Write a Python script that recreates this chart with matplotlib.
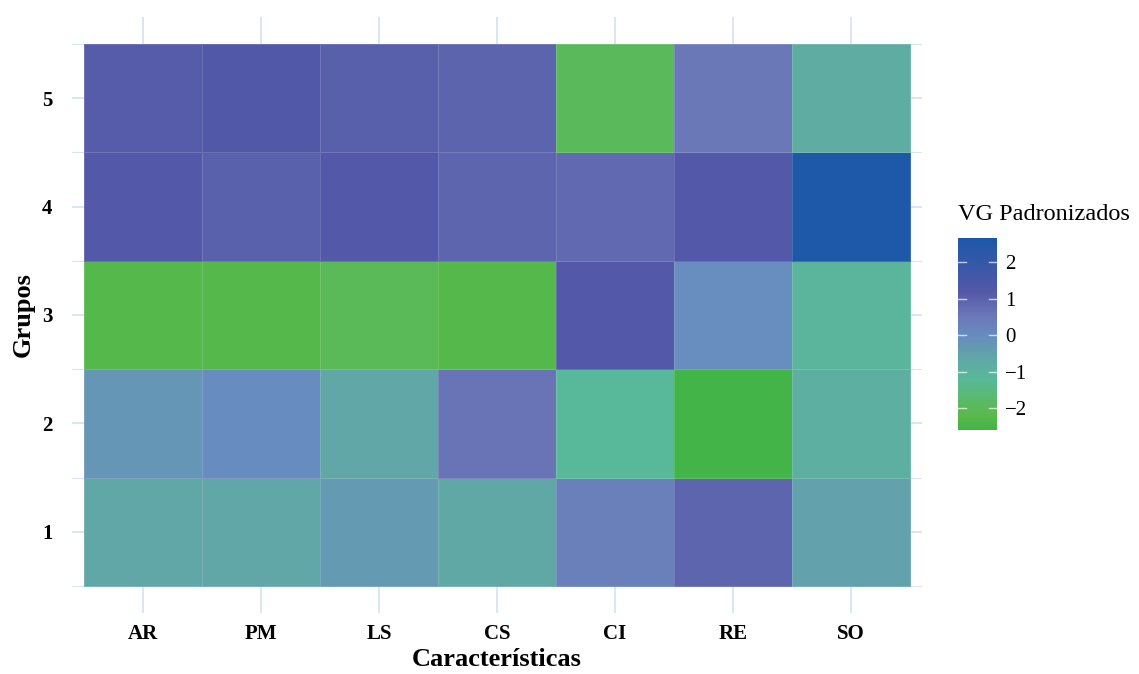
import matplotlib
matplotlib.use("Agg")
import matplotlib.pyplot as plt
import numpy as np
from matplotlib.colors import LinearSegmentedColormap, Normalize

caracteristicas = ["AR", "PM", "LS", "CS", "CI", "RE", "SO"]
grupos = [1, 2, 3, 4, 5]

# standardized values, one row per group (1..5)
g1 = [-0.65, -0.65, -0.35, -0.7, 0.3, 0.9, -0.5]
g2 = [-0.25, 0.0, -0.65, 0.6, -1.2, -2.6, -0.9]
g3 = [-2.3, -2.3, -2.05, -2.3, 1.2, -0.05, -1.1]
g4 = [1.2, 1.0, 1.2, 0.9, 0.8, 1.2, 2.6]
g5 = [1.1, 1.25, 1.05, 0.95, -2.0, 0.5, -0.8]
valores = np.array([g1, g2, g3, g4, g5])

vmin, vmax = -2.6, 2.66
anchors = [(-2.6, "#43b447"), (-2.25, "#59b94b"), (-1.9, "#5bba62"),
           (-1.2, "#58b99a"), (-0.6, "#62a5a8"), (0.0, "#678cc0"),
           (0.5, "#6b78b8"), (1.2, "#5358a8"), (2.66, "#1c58a8")]
cmap = LinearSegmentedColormap.from_list(
    "vg", [((v - vmin) / (vmax - vmin), c) for v, c in anchors])
norm = Normalize(vmin, vmax)

plt.rcParams["font.family"] = ["Liberation Serif", "DejaVu Serif"]
grid_col = "#d8e4f3"

fig = plt.figure(figsize=(11.39, 6.74), dpi=100)
ax = fig.add_axes([0.0632, 0.0905, 0.7463, 0.8843])

x = np.arange(1, len(caracteristicas) + 1)
# grid below tiles
for yy in grupos:
    ax.axhline(yy, color=grid_col, lw=1.3, zorder=0)
for yy in np.arange(0.5, 6, 1.0):
    ax.axhline(yy, color=grid_col, lw=0.8, zorder=0)
for xx in x:
    ax.axvline(xx, color=grid_col, lw=1.3, zorder=0)

edges_x = np.arange(0.5, len(caracteristicas) + 1)
edges_y = np.arange(0.5, len(grupos) + 1)
ax.pcolormesh(edges_x, edges_y, valores, cmap=cmap, norm=norm,
              edgecolors=(1, 1, 1, 0.15), linewidth=0.5, zorder=1)

ax.set_xlim(0.4, 7.6)
ax.set_ylim(0.25, 5.75)
ax.set_xticks(x)
ax.set_xticklabels(caracteristicas, fontsize=15, fontweight="bold")
ax.set_yticks(grupos)
ax.set_yticklabels([str(g) for g in grupos], fontsize=15, fontweight="bold")
ax.tick_params(length=0)
ax.tick_params(axis="x", pad=8)
ax.tick_params(axis="y", pad=14)
for s in ax.spines.values():
    s.set_visible(False)
ax.set_xlabel("Características", fontsize=19, fontweight="bold", labelpad=3)
ax.set_ylabel("Grupos", fontsize=19, fontweight="bold", labelpad=5)

cax = fig.add_axes([0.8411, 0.362, 0.0342, 0.285])
grad = np.linspace(vmin, vmax, 300).reshape(-1, 1)
cax.imshow(grad, aspect="auto", origin="lower", cmap=cmap, norm=norm,
           extent=[0, 1, vmin, vmax])
cax.set_xlim(0, 1)
cax.set_ylim(vmin, vmax)
cax.set_xticks([])
ticks = [-2, -1, 0, 1, 2]
for t in ticks:
    cax.plot([0, 0.2], [t, t], color="white", lw=1, alpha=0.7)
    cax.plot([0.8, 1], [t, t], color="white", lw=1, alpha=0.7)
cax.yaxis.tick_right()
cax.set_yticks(ticks)
cax.set_yticklabels(["\u22122", "\u22121", "0", "1", "2"], fontsize=15)
cax.tick_params(length=0, pad=6)
for s in cax.spines.values():
    s.set_visible(False)
fig.text(0.8411, 0.682, "VG Padronizados", fontsize=17.5, ha="left", va="center")

fig.savefig("out.png", dpi=100)
